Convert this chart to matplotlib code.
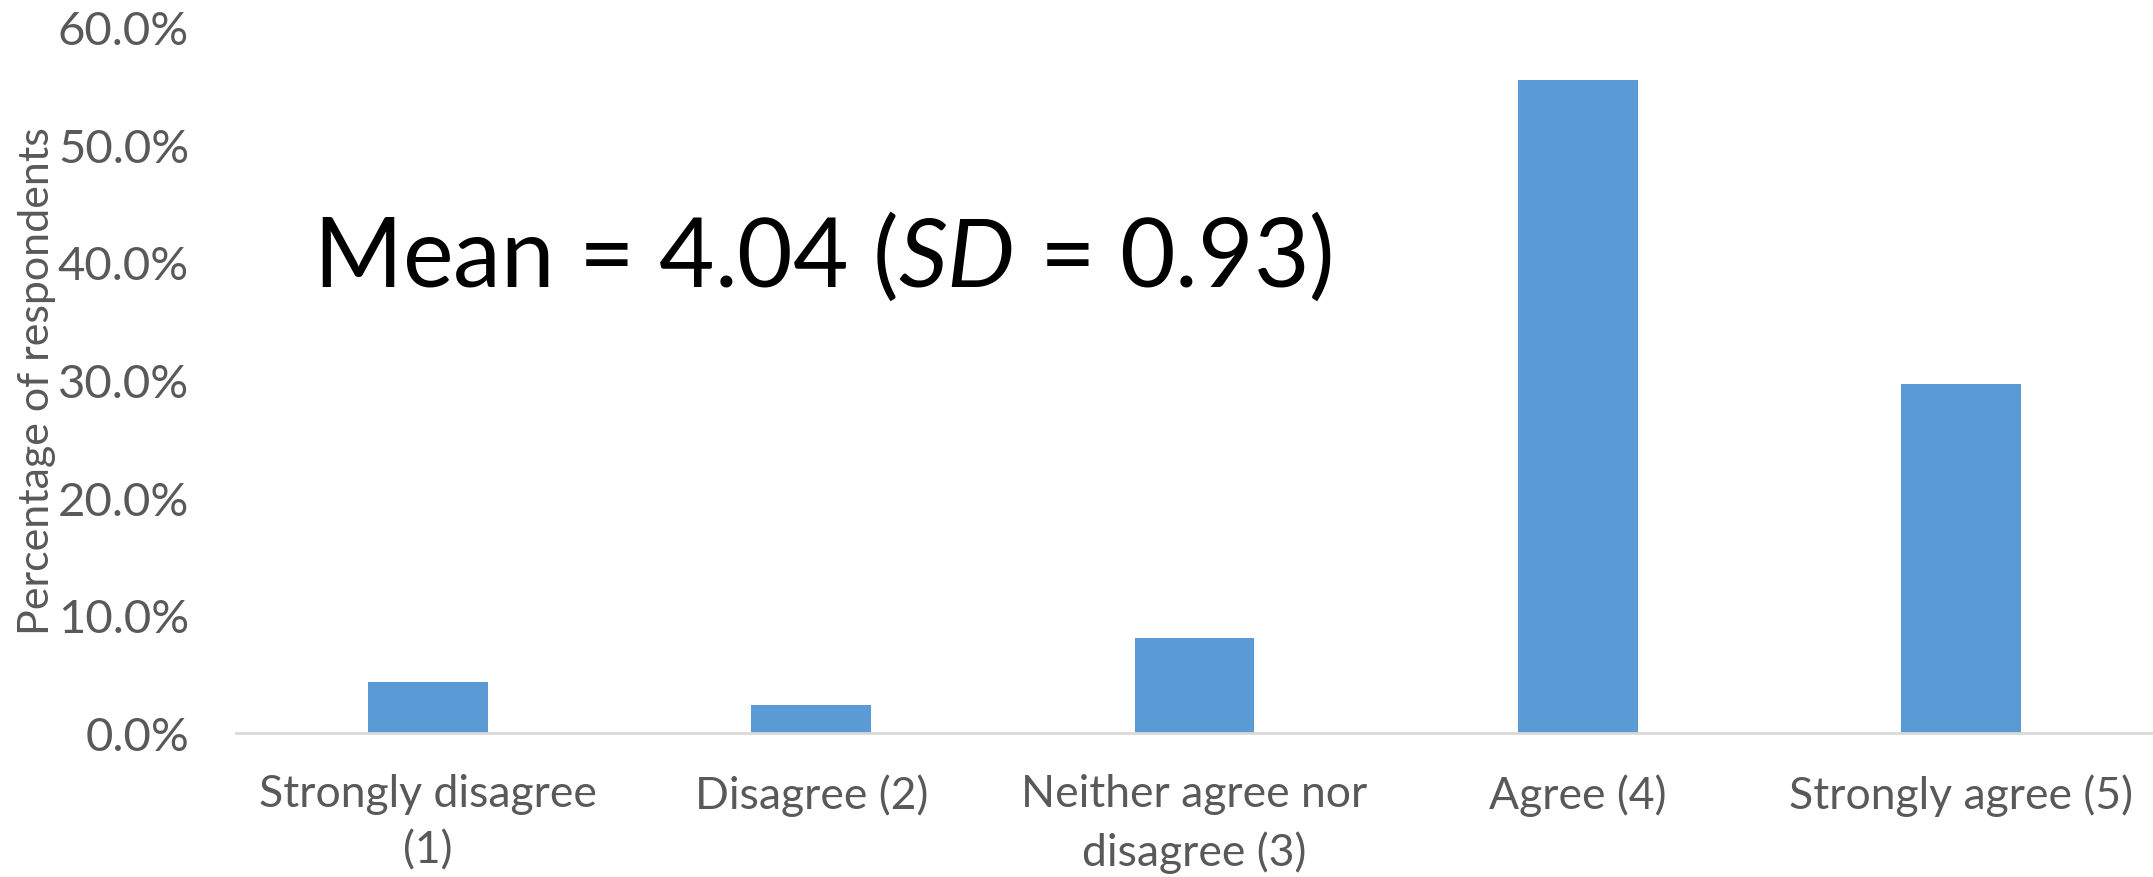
import matplotlib.pyplot as plt
from matplotlib.ticker import PercentFormatter

# response categories and share of respondents (%)
categories = ['Strongly disagree\n(1)', 'Disagree (2)', 'Neither agree nor\ndisagree (3)',
              'Agree (4)', 'Strongly agree (5)']
percent = [4.3, 2.4, 8.1, 55.5, 29.7]
yticks = [0, 10, 20, 30, 40, 50, 60]

plt.rcParams['font.family'] = ['Lato', 'DejaVu Sans']
plt.rcParams['mathtext.fontset'] = 'custom'
plt.rcParams['mathtext.it'] = 'Lato:italic'
plt.rcParams['mathtext.rm'] = 'Lato'
grey = '#595959'

fig = plt.figure(figsize=(21.53, 8.78), dpi=100)
ax = fig.add_axes([0.1098, 0.164, 0.89, 0.804])

x = range(len(categories))
ax.bar(x, percent, width=0.313, color='#5B9BD5', zorder=2)

ax.set_xlim(-0.5, len(categories) - 0.5)
ax.set_ylim(0, 60)
ax.set_yticks(yticks)
ax.yaxis.set_major_formatter(PercentFormatter(decimals=1))
ax.set_xticks(list(x))
ax.set_xticklabels(categories, linespacing=1.45)
ax.tick_params(axis='x', length=0, labelsize=32, colors=grey, pad=29)
ax.tick_params(axis='y', length=0, labelsize=34, colors=grey, pad=34)

for s in ['top', 'right', 'left']:
    ax.spines[s].set_visible(False)
ax.spines['bottom'].set_color('#D9D9D9')
ax.spines['bottom'].set_linewidth(2)

ax.set_ylabel('Percentage of respondents', fontsize=31, color=grey)
ax.yaxis.set_label_coords(-0.094, 0.5)

ax.text(0.04, 0.676, r'Mean = 4.04 ($\mathit{SD}$ = 0.93)', transform=ax.transAxes,
        fontsize=69, va='center', ha='left', color='black')

fig.savefig('out.png', dpi=100)
